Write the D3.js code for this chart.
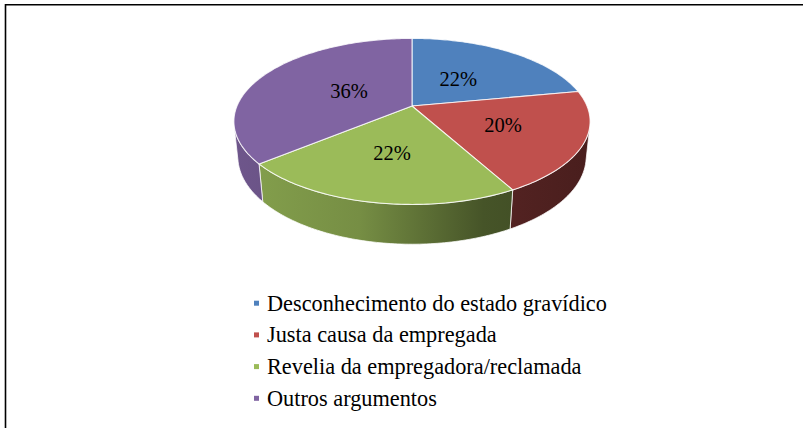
<!DOCTYPE html>
<html>
<head>
<meta charset="utf-8">
<script src="https://cdn.jsdelivr.net/npm/d3@7"></script>
<style>
  body { margin: 0; background: #fff; }
  svg { display: block; }
</style>
</head>
<body>
<svg width="803" height="428"></svg>
<script>
// data
var categories = ['Desconhecimento do estado gravídico', 'Justa causa da empregada',
                  'Revelia da empregadora/reclamada', 'Outros argumentos'];
var values = [22, 20, 22, 36];
var labels = ['22%', '20%', '22%', '36%'];
var colors = ['#4f81bd', '#c0504d', '#9bbb59', '#8064a2'];

var serif = "'Liberation Serif', 'Times New Roman', serif";

// layout of the 3d pie (excel-like perspective)
var cx = 412, cy = 106;
var sinE = 0.458, cosE = Math.sqrt(1 - sinE * sinE);
var D = 4.787, F = 175 * D, H = 0.2277;
var labelRadius = [0.44, 0.55, 0.55, 0.41];

function project(theta, r, h) {
  var u = r * Math.sin(theta), v = r * Math.cos(theta);
  var depth = D + v * cosE - h * sinE;
  return [cx + F * u / depth, cy - F * (v * sinE + h * cosE) / depth];
}

function arcPoints(a0, a1, h) {
  var n = Math.max(2, Math.ceil(Math.abs(a1 - a0) / (Math.PI / 180)));
  return d3.range(n + 1).map(function(i) { return project(a0 + (a1 - a0) * i / n, 1, h); });
}

var svg = d3.select('svg');
var line = d3.line();

// frame (only top and left edges show)
svg.append('path')
  .attr('d', 'M5.5,428 L5.5,4.75 L803,4.75')
  .attr('fill', 'none')
  .attr('stroke', '#000')
  .attr('stroke-width', 1.6);

var pie = d3.pie().sort(null).startAngle(0).endAngle(2 * Math.PI);
var slices = pie(values);

var defs = svg.append('defs');
slices.forEach(function(d, i) {
  var g = defs.append('linearGradient')
    .attr('id', 'side' + i)
    .attr('gradientUnits', 'userSpaceOnUse')
    .attr('x1', 235).attr('x2', 590).attr('y1', 0).attr('y2', 0);
  [[0, 0.86], [0.35, 0.76], [0.7, 0.45], [1, 0.38]].forEach(function(s) {
    g.append('stop')
      .attr('offset', s[0])
      .attr('stop-color', d3.interpolateRgb('#000', colors[i])(s[1]));
  });
});

// visible part of the outer wall
var ts = Math.acos(-1 / (D * cosE));
var walls = svg.append('g');
slices.forEach(function(d, i) {
  var a0 = Math.max(d.startAngle, ts), a1 = Math.min(d.endAngle, 2 * Math.PI - ts);
  if (a0 >= a1) return;
  var pts = arcPoints(a0, a1, 0).concat(arcPoints(a1, a0, -H));
  walls.append('path')
    .attr('d', line(pts) + 'Z')
    .attr('fill', 'url(#side' + i + ')')
    .attr('stroke', 'rgba(255,255,255,0.75)')
    .attr('stroke-width', 1)
    .attr('stroke-linejoin', 'round');
});

// top faces
var tops = svg.append('g');
slices.forEach(function(d, i) {
  var pts = [project(0, 0, 0)].concat(arcPoints(d.startAngle, d.endAngle, 0));
  tops.append('path')
    .attr('d', line(pts) + 'Z')
    .attr('fill', colors[i])
    .attr('stroke', 'rgba(255,255,255,0.8)')
    .attr('stroke-width', 1.1)
    .attr('stroke-linejoin', 'round');
});

// data labels
svg.append('g').selectAll('text')
  .data(slices)
  .enter()
  .append('text')
  .attr('x', function(d, i) { return project((d.startAngle + d.endAngle) / 2, labelRadius[i], 0)[0]; })
  .attr('y', function(d, i) { return project((d.startAngle + d.endAngle) / 2, labelRadius[i], 0)[1] + 6; })
  .attr('text-anchor', 'middle')
  .style('font-family', serif)
  .style('font-size', '20.5px')
  .attr('fill', '#000')
  .text(function(d, i) { return labels[i]; });

// legend
var legend = svg.append('g').selectAll('g')
  .data(categories)
  .enter()
  .append('g')
  .attr('transform', function(d, i) { return 'translate(0,' + (310.7 + i * 31.7) + ')'; });

legend.append('rect')
  .attr('x', 254).attr('y', -10)
  .attr('width', 5).attr('height', 5)
  .attr('fill', function(d, i) { return colors[i]; });

legend.append('text')
  .attr('x', 267)
  .style('font-family', serif)
  .style('font-size', '22.3px')
  .attr('fill', '#000')
  .text(function(d) { return d; });
</script>
</body>
</html>
